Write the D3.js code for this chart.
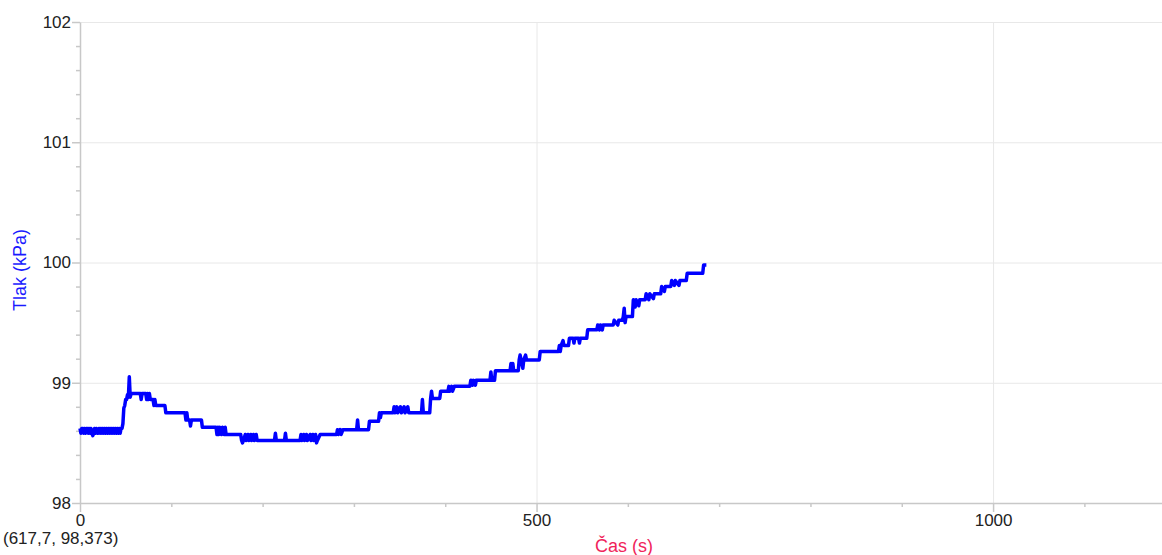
<!DOCTYPE html>
<html>
<head>
<meta charset="utf-8">
<script src="https://cdn.jsdelivr.net/npm/d3@7/dist/d3.min.js"></script>
<style>
  body { margin: 0; background: #fff; }
  text { font-family: "Liberation Sans", Arial, sans-serif; }
</style>
</head>
<body>
<svg id="chart" width="1162" height="555"></svg>
<script>
// time (s) and pressure (kPa) readings
let time = [
  0,1,2,3,4,5,6,7,8,9,10,11,12,13,14,15,16,17,18,19,20,21,22,23,24,25,26,27,28,29,30,
  31,32,33,34,35,36,37,38,39,40,41,42,43,44,45,46,
  47,48,49,50,51,52,53,54,55,56,66,67,68,72,73,74,75,76,77,80,81,82,83,93,94,
  115,116,117,118,120,121,122,133,134,149,150,151,152,153,155,156,158,159,160,
  176,177,178,179,181,182,184,185,187,188,190,191,193,194,196,213,214,215,224,225,226,
  241,242,243,245,246,248,249,252,253,255,256,258,259,260,263,281,282,283,285,286,288,
  303,304,305,316,317,327,328,329,330,343,344,345,347,348,351,352,355,356,359,360,
  374,375,376,383,384,385,386,394,395,403,404,405,407,408,410,427,428,430,431,433,434,
  449,450,451,454,455,471,472,473,474,475,480,481,482,483,485,486,488,489,503,504,
  524,525,526,527,529,530,535,536,540,541,542,546,547,548,555,556,566,567,569,570,572,573,
  584,585,589,590,594,595,596,597,598,600,605,606,608,609,612,613,619,620,623,624,628,629,
  636,637,640,641,647,648,651,652,656,657,664,665,682,683,686
];
let pressure = [
  98.62,98.58,98.62,98.62,98.58,98.62,98.58,98.62,98.62,98.58,98.62,98.58,98.62,98.58,98.56,98.58,
  98.62,98.58,98.62,98.58,98.58,98.62,98.58,98.62,98.58,98.62,98.58,98.62,98.58,98.62,98.58,
  98.62,98.58,98.62,98.58,98.62,98.58,98.62,98.58,98.62,98.58,98.62,98.58,98.62,98.58,98.62,98.62,
  98.66,98.79,98.81,98.86,98.86,98.90,98.88,99.05,98.88,98.91,98.91,98.86,98.91,98.91,98.86,98.91,
  98.86,98.91,98.86,98.86,98.81,98.86,98.81,98.81,98.75,
  98.75,98.69,98.75,98.69,98.69,98.64,98.69,98.69,98.63,98.63,98.57,98.63,98.57,98.63,98.57,98.63,
  98.57,98.63,98.57,
  98.57,98.52,98.50,98.52,98.57,98.52,98.57,98.52,98.57,98.52,98.57,98.52,98.57,98.52,98.52,98.52,
  98.58,98.52,98.52,98.58,98.52,
  98.52,98.57,98.52,98.57,98.52,98.57,98.52,98.57,98.52,98.57,98.52,98.57,98.50,98.52,98.57,98.57,
  98.61,98.57,98.61,98.57,98.61,
  98.61,98.69,98.61,98.61,98.68,98.68,98.75,98.71,98.75,98.75,98.80,98.75,98.80,98.75,98.80,98.75,
  98.80,98.75,98.80,98.75,
  98.75,98.86,98.75,98.75,98.87,98.93,98.87,98.87,98.93,98.93,98.97,98.93,98.97,98.93,98.97,98.97,
  99.02,98.98,99.02,98.98,99.02,
  99.02,99.09,99.02,99.02,99.10,99.10,99.16,99.10,99.16,99.10,99.10,99.19,99.23,99.19,99.12,99.19,
  99.23,99.19,99.19,99.26,
  99.26,99.31,99.26,99.31,99.35,99.31,99.31,99.37,99.37,99.33,99.37,99.37,99.33,99.37,99.37,99.44,
  99.44,99.48,99.44,99.48,99.44,99.48,
  99.48,99.52,99.48,99.52,99.52,99.55,99.62,99.50,99.55,99.55,99.55,99.69,99.63,99.69,99.64,99.69,
  99.69,99.74,99.69,99.74,99.70,99.74,
  99.74,99.80,99.76,99.80,99.80,99.85,99.81,99.85,99.81,99.85,99.85,99.91,99.91,99.98,99.98
];

let xMajor = [0, 500, 1000];
let xMinor = [100, 200, 300, 400, 600, 700, 800, 900, 1100];
let yMajor = [98, 99, 100, 101, 102];
let yMinor = [98.2, 98.4, 98.6, 98.8, 99.2, 99.4, 99.6, 99.8, 100.2, 100.4, 100.6, 100.8, 101.2, 101.4, 101.6, 101.8];

let svg = d3.select("#chart");
let plotLeft = 80, plotRight = 1162, plotTop = 22, plotBottom = 503;

let x = d3.scaleLinear().domain([0, 1185]).range([plotLeft, plotRight]);
let y = d3.scaleLinear().domain([98, 102]).range([plotBottom, plotTop]);

//grid lines
svg.append("g")
  .attr("transform", "translate(0," + plotBottom + ")")
  .call(d3.axisBottom(x).tickValues(xMajor.slice(1)).tickSize(-(plotBottom - plotTop)).tickFormat(""))
  .call(g => g.select(".domain").remove())
  .selectAll("line").attr("stroke", "#e8e8e8");
svg.append("g")
  .attr("transform", "translate(" + plotLeft + ",0)")
  .call(d3.axisLeft(y).tickValues(yMajor.slice(1)).tickSize(-(plotRight - plotLeft)).tickFormat(""))
  .call(g => g.select(".domain").remove())
  .selectAll("line").attr("stroke", "#e8e8e8");

//minor ticks
svg.append("g")
  .attr("transform", "translate(0," + plotBottom + ")")
  .call(d3.axisBottom(x).tickValues(xMinor).tickSize(4).tickFormat(""))
  .call(g => g.select(".domain").remove())
  .selectAll("line").attr("stroke", "#c8c8c8").attr("stroke-width", 1.5);
svg.append("g")
  .attr("transform", "translate(" + plotLeft + ",0)")
  .call(d3.axisLeft(y).tickValues(yMinor).tickSize(4).tickFormat(""))
  .call(g => g.select(".domain").remove())
  .selectAll("line").attr("stroke", "#c8c8c8").attr("stroke-width", 1.5);

//main axes
let xAxis = svg.append("g")
  .attr("transform", "translate(0," + plotBottom + ")")
  .call(d3.axisBottom(x).tickValues(xMajor).tickFormat(d3.format("d")).tickSize(9).tickSizeOuter(0));
let yAxis = svg.append("g")
  .attr("transform", "translate(" + plotLeft + ",0)")
  .call(d3.axisLeft(y).tickValues(yMajor).tickFormat(d3.format("d")).tickSize(8).tickPadding(1).tickSizeOuter(0));
[xAxis, yAxis].forEach(a => {
  a.select(".domain").attr("stroke", "#c8c8c8").attr("stroke-width", 1.5);
  a.selectAll(".tick line").attr("stroke", "#c8c8c8").attr("stroke-width", 1.5);
  a.selectAll(".tick text").attr("fill", "#222").style("font-size", "17px")
    .style("font-family", "'Liberation Sans', Arial, sans-serif");
});
xAxis.selectAll(".tick text").attr("y", 11);

//data line
let line = d3.line()
  .x((d, i) => x(time[i]))
  .y(d => y(d));
svg.append("path")
  .datum(pressure)
  .attr("d", line)
  .attr("fill", "none")
  .attr("stroke", "#0000ff")
  .attr("stroke-width", 3.5)
  .attr("stroke-linejoin", "round");

//labels
svg.append("text")
  .attr("transform", "translate(26,270) rotate(-90)")
  .attr("text-anchor", "middle")
  .attr("font-size", "18px")
  .attr("fill", "#1a1aff")
  .text("Tlak (kPa)");
svg.append("text")
  .attr("x", (plotLeft + plotRight) / 2 + 3)
  .attr("y", 552)
  .attr("text-anchor", "middle")
  .attr("font-size", "18px")
  .attr("fill", "#f0245a")
  .text("Čas (s)");
svg.append("text")
  .attr("x", 3)
  .attr("y", 544)
  .attr("font-size", "17px")
  .attr("fill", "#222")
  .text("(617,7, 98,373)");
</script>
</body>
</html>
